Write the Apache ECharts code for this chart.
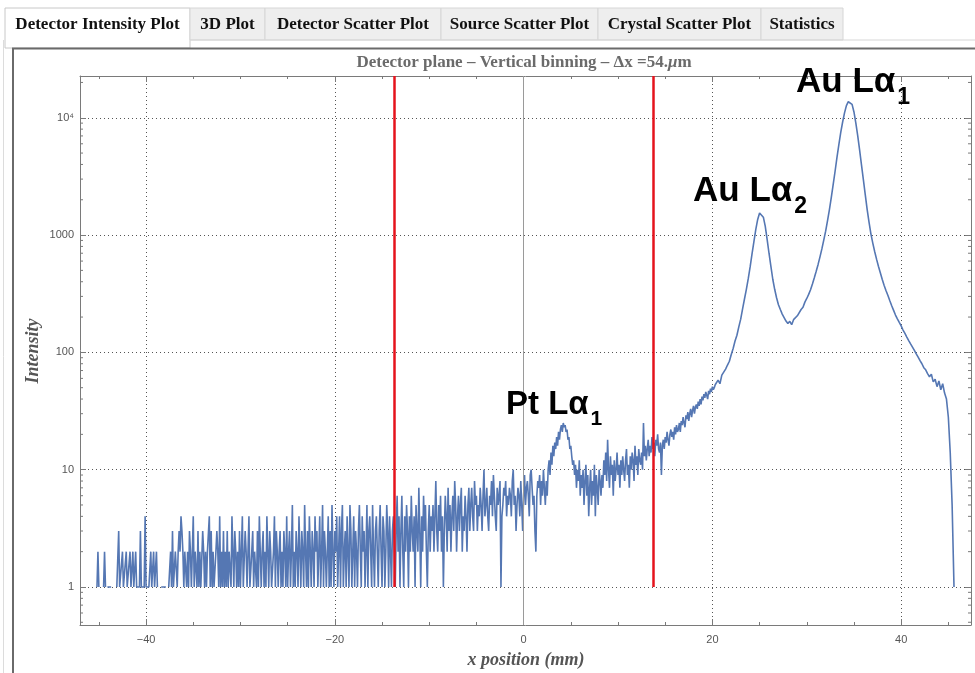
<!DOCTYPE html>
<html><head><meta charset="utf-8">
<script src="https://cdn.jsdelivr.net/npm/echarts@6/dist/echarts.min.js"></script>
<style>html,body{margin:0;padding:0;background:#fff}#c{width:975px;height:673px}</style>
</head><body><div id="c"></div>
<script>
// ---- data ----
// low-count part of the spectrum, fine bins
const lowStart = -45.6;   // mm
const lowStep = 0.1;      // mm
const intensityLow = [
  null,null,null,null,1,2,1,null,null,null,null,1,2,1,null,1,1,1,1,1,
  null,null,null,null,null,1,1,3,1,1,1,2,1,1,1,2,1,1,1,2,
  1,1,2,1,1,2,1,1,1,1,3,1,1,1,1,4,1,1,1,1,
  1,2,1,1,2,1,1,2,1,null,null,null,1,1,1,1,1,1,null,null,
  1,1,2,1,3,1,1,2,2,1,2,3,2,4,3,2,1,2,2,1,
  2,1,3,2,1,2,4,1,2,2,1,3,1,2,1,1,3,2,1,2,
  1,2,2,4,1,3,1,2,1,1,2,3,2,1,4,1,2,1,3,1,
  2,1,3,1,2,2,1,4,2,1,3,2,1,2,1,3,1,2,4,1,
  1,3,2,1,2,4,1,1,2,3,1,2,2,1,3,1,4,2,1,2,
  3,1,2,1,4,2,1,3,2,1,1,2,4,1,3,2,1,2,3,1,
  2,1,3,2,1,4,1,2,3,1,2,5,1,2,1,3,2,1,4,2,
  1,3,2,1,5,2,1,3,1,4,2,1,3,2,1,4,2,3,1,2,
  4,1,2,5,1,3,2,1,2,4,1,3,1,5,2,1,3,2,4,1,
  2,4,1,3,5,1,2,3,1,4,2,1,5,3,1,2,4,1,3,2,
  1,3,5,2,1,4,2,3,1,2,5,1,3,4,2,1,5,2,1,3,
  4,2,1,3,5,2,1,4,3,1,2,5,3,1,4,2,1,3,4,2,
  1,3,6,2,4,1,3,6,2,1,4,2,5,3,1,4,2,6,3,2,
  4,1,5,3,2,7,3,1,4,2,6,3,5,2,1,3,5,2,4,3,
  5,2,4,8,3,2,5,3,6,2,4,1,3,6,4,2,7,3,5,2,
  4,6,3,8,5,2,4,6,3,5,7,2,4,3,6,4,2,5,7,3,
  5,7,4,3,8,5,6,3,5,4,7,5,3,6,10,4,5,7,4,3,
  6,5,8,4,9,6,4,3,7,5,6,8,1,4,5,7,6,8,4,6,
  5,7,6,4,8,10,5,6,3,5,7,6,4,8,5,3,6,9,5,7,
  8,6,4,9,10,7,5,6,3,2,6,8,7,9,5,8,6,10,7,5,
  8,6,10,12,9,14,11,16,13,17,15,19,16,21,18,22,24,21,25,23,
  24,21,22,18,19,15,16,13,11,12,9,11,7,10,8,12,6,9,7,10,
  5,8,11,6,9,4,7,10,5,8,6,11,4,9,7,5,10,8,6,9,
  7,12,9,14,8,18,10,7,13,9,11,6,12,8,10,14,9,11,7,12,
  9,13,10,8,12,15,9,11,7,13,10,14,12,8,16,11,13,9,15,12,
  11,14,10,25,13,16,12,15,18,13,16,14,19,15,17,13,18,16,20,15,
  14,17,9,16,18,15,19,17,21,18,16,20,22,19,21,18,23,20,24,21,
  22,25,21,26,24,28,25,23,29,27,31,26,30,33,28,32,35,30,34,36,
  33,38,35,40,36,42,39,44,41,46,43,40,47,44,49,46,51,48,50,53
];
// Au L-alpha peaks part, coarser bins
const highStart = 20.4;   // mm
const highStep = 0.2;     // mm
const intensityHigh = [
  52,58,54,64,62,72,78,84,96,108,
  125,140,165,192,235,285,345,425,535,690,
  880,1120,1360,1540,1570,1420,1190,920,700,540,
  420,345,292,255,232,212,198,185,176,184,
  172,190,186,205,212,232,242,268,288,312,
  342,382,432,492,562,652,762,905,1080,1330,
  1650,2100,2700,3500,4600,5900,7500,9200,11000,12700,
  13700,13900,13000,11200,9000,7000,5300,3950,2950,2200,
  1650,1280,1020,850,720,620,540,475,418,372,
  335,305,275,250,228,208,193,180,168,155,
  145,135,126,118,111,104,97,91,85,80,
  74,71,66,62,65,56,59,51,57,48,
  54,45,40,28,14,5,1
];
const redLineX = [-13.7, 13.7];
const xRange = [-47, 47.4];
const yRange = [0.474, 22700];
const yMinorTicks = [0.5,0.6,0.7,0.8,0.9,2,3,4,5,6,7,8,9,20,30,40,50,60,70,80,90,
  200,300,400,500,600,700,800,900,2000,3000,4000,5000,6000,7000,8000,9000,20000];
const tabs = ['Detector Intensity Plot','3D Plot','Detector Scatter Plot','Source Scatter Plot','Crystal Scatter Plot','Statistics'];
const tabEdges = [5,190,265,441,598,761,843];
const titleText = 'Detector plane \u2013 Vertical binning \u2013 \u0394x =54.';
const peakLabels = [
  {main:'Au L\u03b1', sub:'1', x:796, y:65, size:35},
  {main:'Au L\u03b1', sub:'2', x:693, y:174, size:35},
  {main:'Pt L\u03b1', sub:'1', x:506, y:388, size:33}
];

// ---- build ----
const seriesData = intensityLow.map((v, i) => [+(lowStart + i * lowStep).toFixed(2), v])
  .concat(intensityHigh.map((v, i) => [+(highStart + i * highStep).toFixed(2), v]));
const chart = echarts.init(document.getElementById('c'), null, {renderer:'canvas'});
const axisCol = '#7a7a7a';
const gridLine = {show:true, lineStyle:{color:'#555', width:1, type:[1,3]}};
const serif = '"Liberation Serif", "DejaVu Serif", serif';
const sans = '"Liberation Sans", Arial, sans-serif';

const graphics = [];
for (let i = 0; i < tabs.length; i++) {
  const x0 = tabEdges[i], x1 = tabEdges[i+1];
  const active = i === 0;
  graphics.push({type:'rect', z:0, shape:{x:x0, y:8, width:x1-x0, height:active?40:32},
    style:{fill: active ? '#fff' : '#eeeeee', stroke: active ? '#c8c8c8' : '#d6d6d6', lineWidth:1}});
  graphics.push({type:'text', z:2, style:{text:tabs[i], x:(x0+x1)/2, y:25, textAlign:'center', textVerticalAlign:'middle',
    font:'bold 17px ' + serif, fill:'#111'}});
}
graphics.push({type:'line', z:1, shape:{x1:190, y1:40, x2:975, y2:40}, style:{stroke:'#d6d6d6', lineWidth:1}});
graphics.push({type:'line', z:3, shape:{x1:12, y1:48.5, x2:975, y2:48.5}, style:{stroke:'#6a6a6a', lineWidth:2}});
graphics.push({type:'line', z:3, shape:{x1:13, y1:48, x2:13, y2:673}, style:{stroke:'#6a6a6a', lineWidth:2}});
graphics.push({type:'line', z:3, shape:{x1:3.5, y1:40, x2:3.5, y2:673}, style:{stroke:'#dcdcdc', lineWidth:1}});
graphics.push({type:'text', z:5, style:{text:'{a|' + titleText + '}{b|\u03bc}{a|m}', x:524, y:63, textAlign:'center', textVerticalAlign:'middle',
  rich:{a:{font:'bold 17px ' + serif, fill:'#6b6b6b'}, b:{font:'italic bold 17px ' + serif, fill:'#6b6b6b'}}}});
graphics.push({type:'text', z:5, x:33, y:351, rotation:Math.PI/2, style:{text:'Intensity', x:0, y:0, textAlign:'center', textVerticalAlign:'middle',
  font:'italic bold 18px ' + serif, fill:'#555'}});
graphics.push({type:'text', z:5, style:{text:'x position (mm)', x:526, y:660, textAlign:'center', textVerticalAlign:'middle',
  font:'italic bold 18px ' + serif, fill:'#555'}});
peakLabels.forEach(p => {
  graphics.push({type:'text', z:10, style:{text:'{m|' + p.main + '}{s|' + p.sub + '}', x:p.x, y:p.y, textAlign:'left', textVerticalAlign:'top',
    rich:{m:{fontFamily:sans, fontWeight:'bold', fontSize:p.size, fill:'#000', verticalAlign:'bottom', padding:[0,2,9,0]},
          s:{fontFamily:sans, fontWeight:'bold', fontSize:Math.round(p.size*0.65), fill:'#000', verticalAlign:'bottom'}}}});
});

const fmtX = v => v < 0 ? '\u2212' + Math.abs(v) : String(v);
const fmtY = v => {
  const r = Math.round(v);
  if (r === 10000) return '10\u2074';
  return String(r);
};

chart.setOption({
  animation:false,
  backgroundColor:'#fff',
  grid:{left:80, right:4, top:76, bottom:48, containLabel:false},
  xAxis:[{
    type:'value', min:xRange[0], max:xRange[1],
    axisLine:{show:true, onZero:false, lineStyle:{color:axisCol, width:1}},
    axisTick:{show:true, inside:true, length:6, lineStyle:{color:axisCol}},
    minorTick:{show:true, splitNumber:4, length:3, lineStyle:{color:axisCol}},
    axisLabel:{formatter:fmtX, showMinLabel:false, showMaxLabel:false, color:'#555', fontSize:11, fontFamily:sans, margin:9},
    splitLine:gridLine
  },{
    type:'value', position:'top', min:xRange[0], max:xRange[1],
    axisLine:{show:true, onZero:false, lineStyle:{color:axisCol, width:1}},
    axisTick:{show:true, inside:true, length:6, lineStyle:{color:axisCol}},
    minorTick:{show:true, splitNumber:4, length:3, lineStyle:{color:axisCol}},
    axisLabel:{show:false}, splitLine:{show:false}
  }],
  yAxis:[{
    type:'log', logBase:10, min:yRange[0], max:yRange[1],
    axisLine:{show:true, onZero:false, lineStyle:{color:axisCol, width:1}},
    axisTick:{show:true, inside:true, length:6, lineStyle:{color:axisCol}},
    axisLabel:{formatter:fmtY, showMinLabel:false, showMaxLabel:false, color:'#555', fontSize:11, fontFamily:sans, margin:6},
    splitLine:gridLine
  },{
    type:'log', logBase:10, min:yRange[0], max:yRange[1], position:'right',
    axisLine:{show:true, onZero:false, lineStyle:{color:axisCol, width:1}},
    axisTick:{show:true, inside:true, length:6, lineStyle:{color:axisCol}},
    axisLabel:{show:false}, splitLine:{show:false}
  }],
  graphic:graphics,
  series:[
    {
      type:'custom', z:1, silent:true, clip:false,
      data:yMinorTicks.map(v => [xRange[0], v]),
      renderItem:(params, api) => {
        const v = api.value(1);
        const pL = api.coord([xRange[0], v]);
        const pR = api.coord([xRange[1], v]);
        return {type:'group', children:[
          {type:'line', shape:{x1:pL[0], y1:pL[1], x2:pL[0]+3, y2:pL[1]}, style:{stroke:axisCol, lineWidth:1}},
          {type:'line', shape:{x1:pR[0], y1:pR[1], x2:pR[0]-3, y2:pR[1]}, style:{stroke:axisCol, lineWidth:1}}
        ]};
      },
      markLine:{silent:true, symbol:['none','none'], label:{show:false},
        lineStyle:{color:'#9a9a9a', width:1, type:'solid'},
        data:[[{coord:[0, yRange[0]]},{coord:[0, yRange[1]]}]]}
    },
    {
      type:'line', z:3, data:seriesData, showSymbol:false, symbol:'none', connectNulls:false,
      lineStyle:{color:'#5577b3', width:1.6}, silent:true,
      markLine:{silent:true, symbol:['none','none'], label:{show:false},
        lineStyle:{color:'#e5131c', width:2.5, type:'solid'},
        data:redLineX.map(x => [{coord:[x, 1]},{coord:[x, yRange[1]]}])}
    }
  ]
});
</script>
</body></html>
